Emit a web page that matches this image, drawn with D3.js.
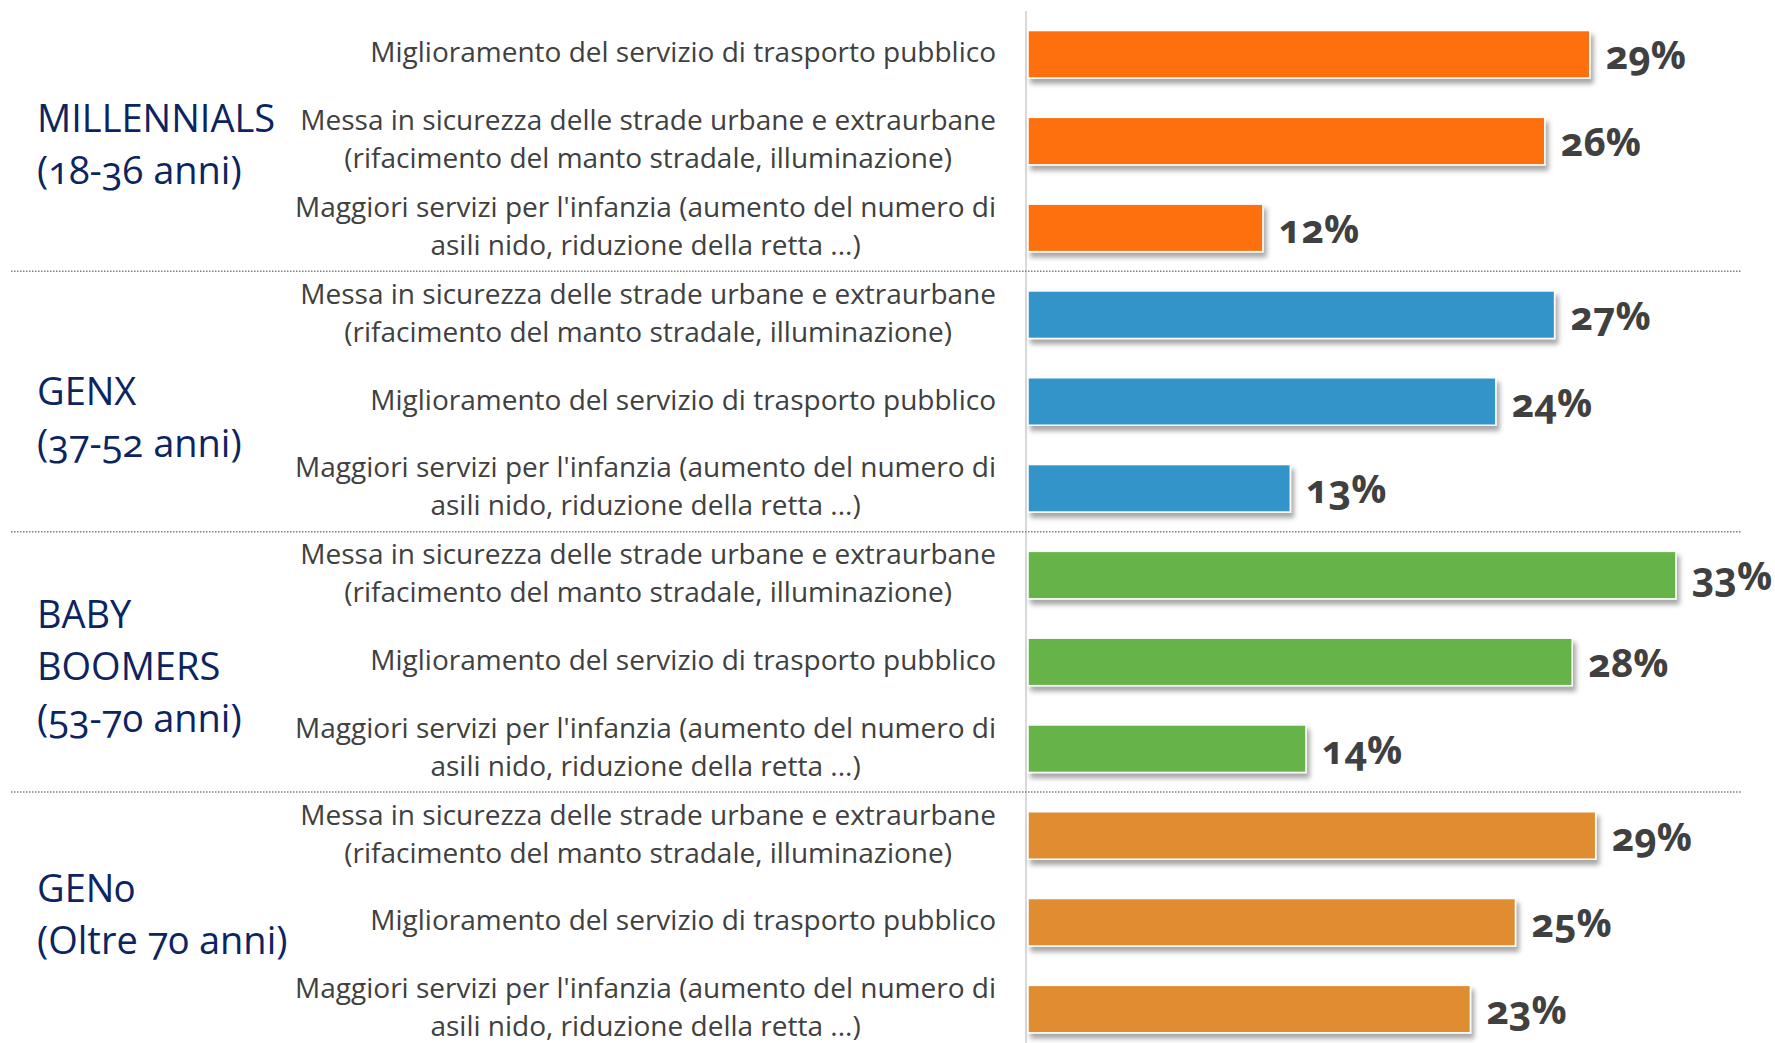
<!DOCTYPE html>
<html><head><meta charset="utf-8">
<script src="https://cdn.jsdelivr.net/npm/d3@7"></script>
<style>
body{margin:0;background:#fff;}
svg text{font-family:"Open Sans","Noto Sans",sans-serif;font-variant-numeric:oldstyle-nums;font-feature-settings:"onum" 1;}
</style></head><body>
<svg id="chart" width="1775" height="1043"></svg>
<script>
// ---- data ----
const groupLabels = [["MILLENNIALS","(18-36 anni)"],["GENX","(37-52 anni)"],["BABY","BOOMERS","(53-70 anni)"],["GEN0","(Oltre 70 anni)"]];
const groupColors = ["#FD6F07","#3194C8","#66B446","#E08D33"];
const catTrasporto = ["Miglioramento del servizio di trasporto pubblico"];
const catStrade = ["Messa in sicurezza delle strade urbane e extraurbane","(rifacimento del manto stradale, illuminazione)"];
const catInfanzia = ["Maggiori servizi per l'infanzia (aumento del numero di","asili nido, riduzione della retta ...)"];
const rowGroup = [0,0,0,1,1,1,2,2,2,3,3,3];
const rowCategory = [catTrasporto,catStrade,catInfanzia,catStrade,catTrasporto,catInfanzia,catStrade,catTrasporto,catInfanzia,catStrade,catTrasporto,catInfanzia];
const values = [28.7,26.4,12.0,26.9,23.9,13.4,33.1,27.8,14.2,29.0,24.9,22.6];

// ---- layout ----
const svg = d3.select("#chart");
const rows = d3.range(values.length);
const x = d3.scaleLinear().domain([0,33]).range([1028,1674]);
const y = d3.scaleBand().domain(rows).range([10.9,1052.5]).paddingInner(0.453).paddingOuter(0.2265);
const fmt = v => d3.format(".0f")(v) + "%";

const defs = svg.append("defs");
const f = defs.append("filter").attr("id","shadow").attr("x","-5%").attr("y","-20%").attr("width","115%").attr("height","160%");
f.append("feDropShadow").attr("dx",3).attr("dy",5).attr("stdDeviation",2.5).attr("flood-color","#000").attr("flood-opacity",0.35);

// vertical axis
const ax = svg.append("g").attr("transform","translate(1026,0)")
  .call(d3.axisLeft(y).tickSize(0).tickFormat(""));
ax.select(".domain").attr("stroke","#d9d9d9").attr("stroke-width",2).attr("d","M0,11V1043");

// separators
const seps = [2,5,8];
svg.selectAll("line.sep").data(seps).join("line").attr("class","sep")
  .attr("x1",11).attr("x2",1741)
  .attr("y1",d=>(y(d)+y.bandwidth()+y(d+1))/2).attr("y2",d=>(y(d)+y.bandwidth()+y(d+1))/2)
  .attr("stroke","#808080").attr("stroke-width",1.5).attr("stroke-dasharray","1.5 1.5");

// bars
svg.selectAll("rect.bar").data(rows).join("rect").attr("class","bar")
  .attr("x",x(0)).attr("y",i=>y(i)).attr("height",y.bandwidth())
  .attr("width",i=>x(values[i])-x(0))
  .attr("fill",i=>groupColors[rowGroup[i]])
  .attr("stroke","#fff").attr("stroke-width",1.5)
  .attr("filter","url(#shadow)");

// value labels
svg.selectAll("text.val").data(rows).join("text").attr("class","val")
  .attr("x",i=>x(values[i])+16).attr("y",i=>y(i)+y.bandwidth()/2+15)
  .attr("font-size",39).attr("font-weight","bold").attr("fill","#404040")
  .text(i=>fmt(values[i]));

// category labels
const lh = 38, catRight = 996;
rows.forEach(i=>{
  const lines = rowCategory[i];
  const cy = y(i)+y.bandwidth()/2;
  const g = svg.append("g");
  const ts = lines.map((t,k)=>g.append("text")
    .attr("y",cy+(k-(lines.length-1)/2)*lh+8)
    .attr("font-size",28).attr("fill","#404040").attr("text-anchor","middle").text(t));
  const w = d3.max(ts.map(t=>t.node().getComputedTextLength()));
  ts.forEach(t=>t.attr("x",catRight-w/2));
});

// group labels
const glh = 52;
const gOffset = [4,16,5,-7];
groupLabels.forEach((lines,gi)=>{
  const idx = rows.filter(r=>rowGroup[r]===gi);
  const cy = (y(idx[0])+y(idx[idx.length-1])+y.bandwidth())/2 + gOffset[gi];
  lines.forEach((t,k)=>svg.append("text")
    .attr("x",37).attr("y",cy+(k-(lines.length-1)/2)*glh+13)
    .attr("font-size",38).attr("fill","#0C2461").text(t));
});
</script>
</body></html>
